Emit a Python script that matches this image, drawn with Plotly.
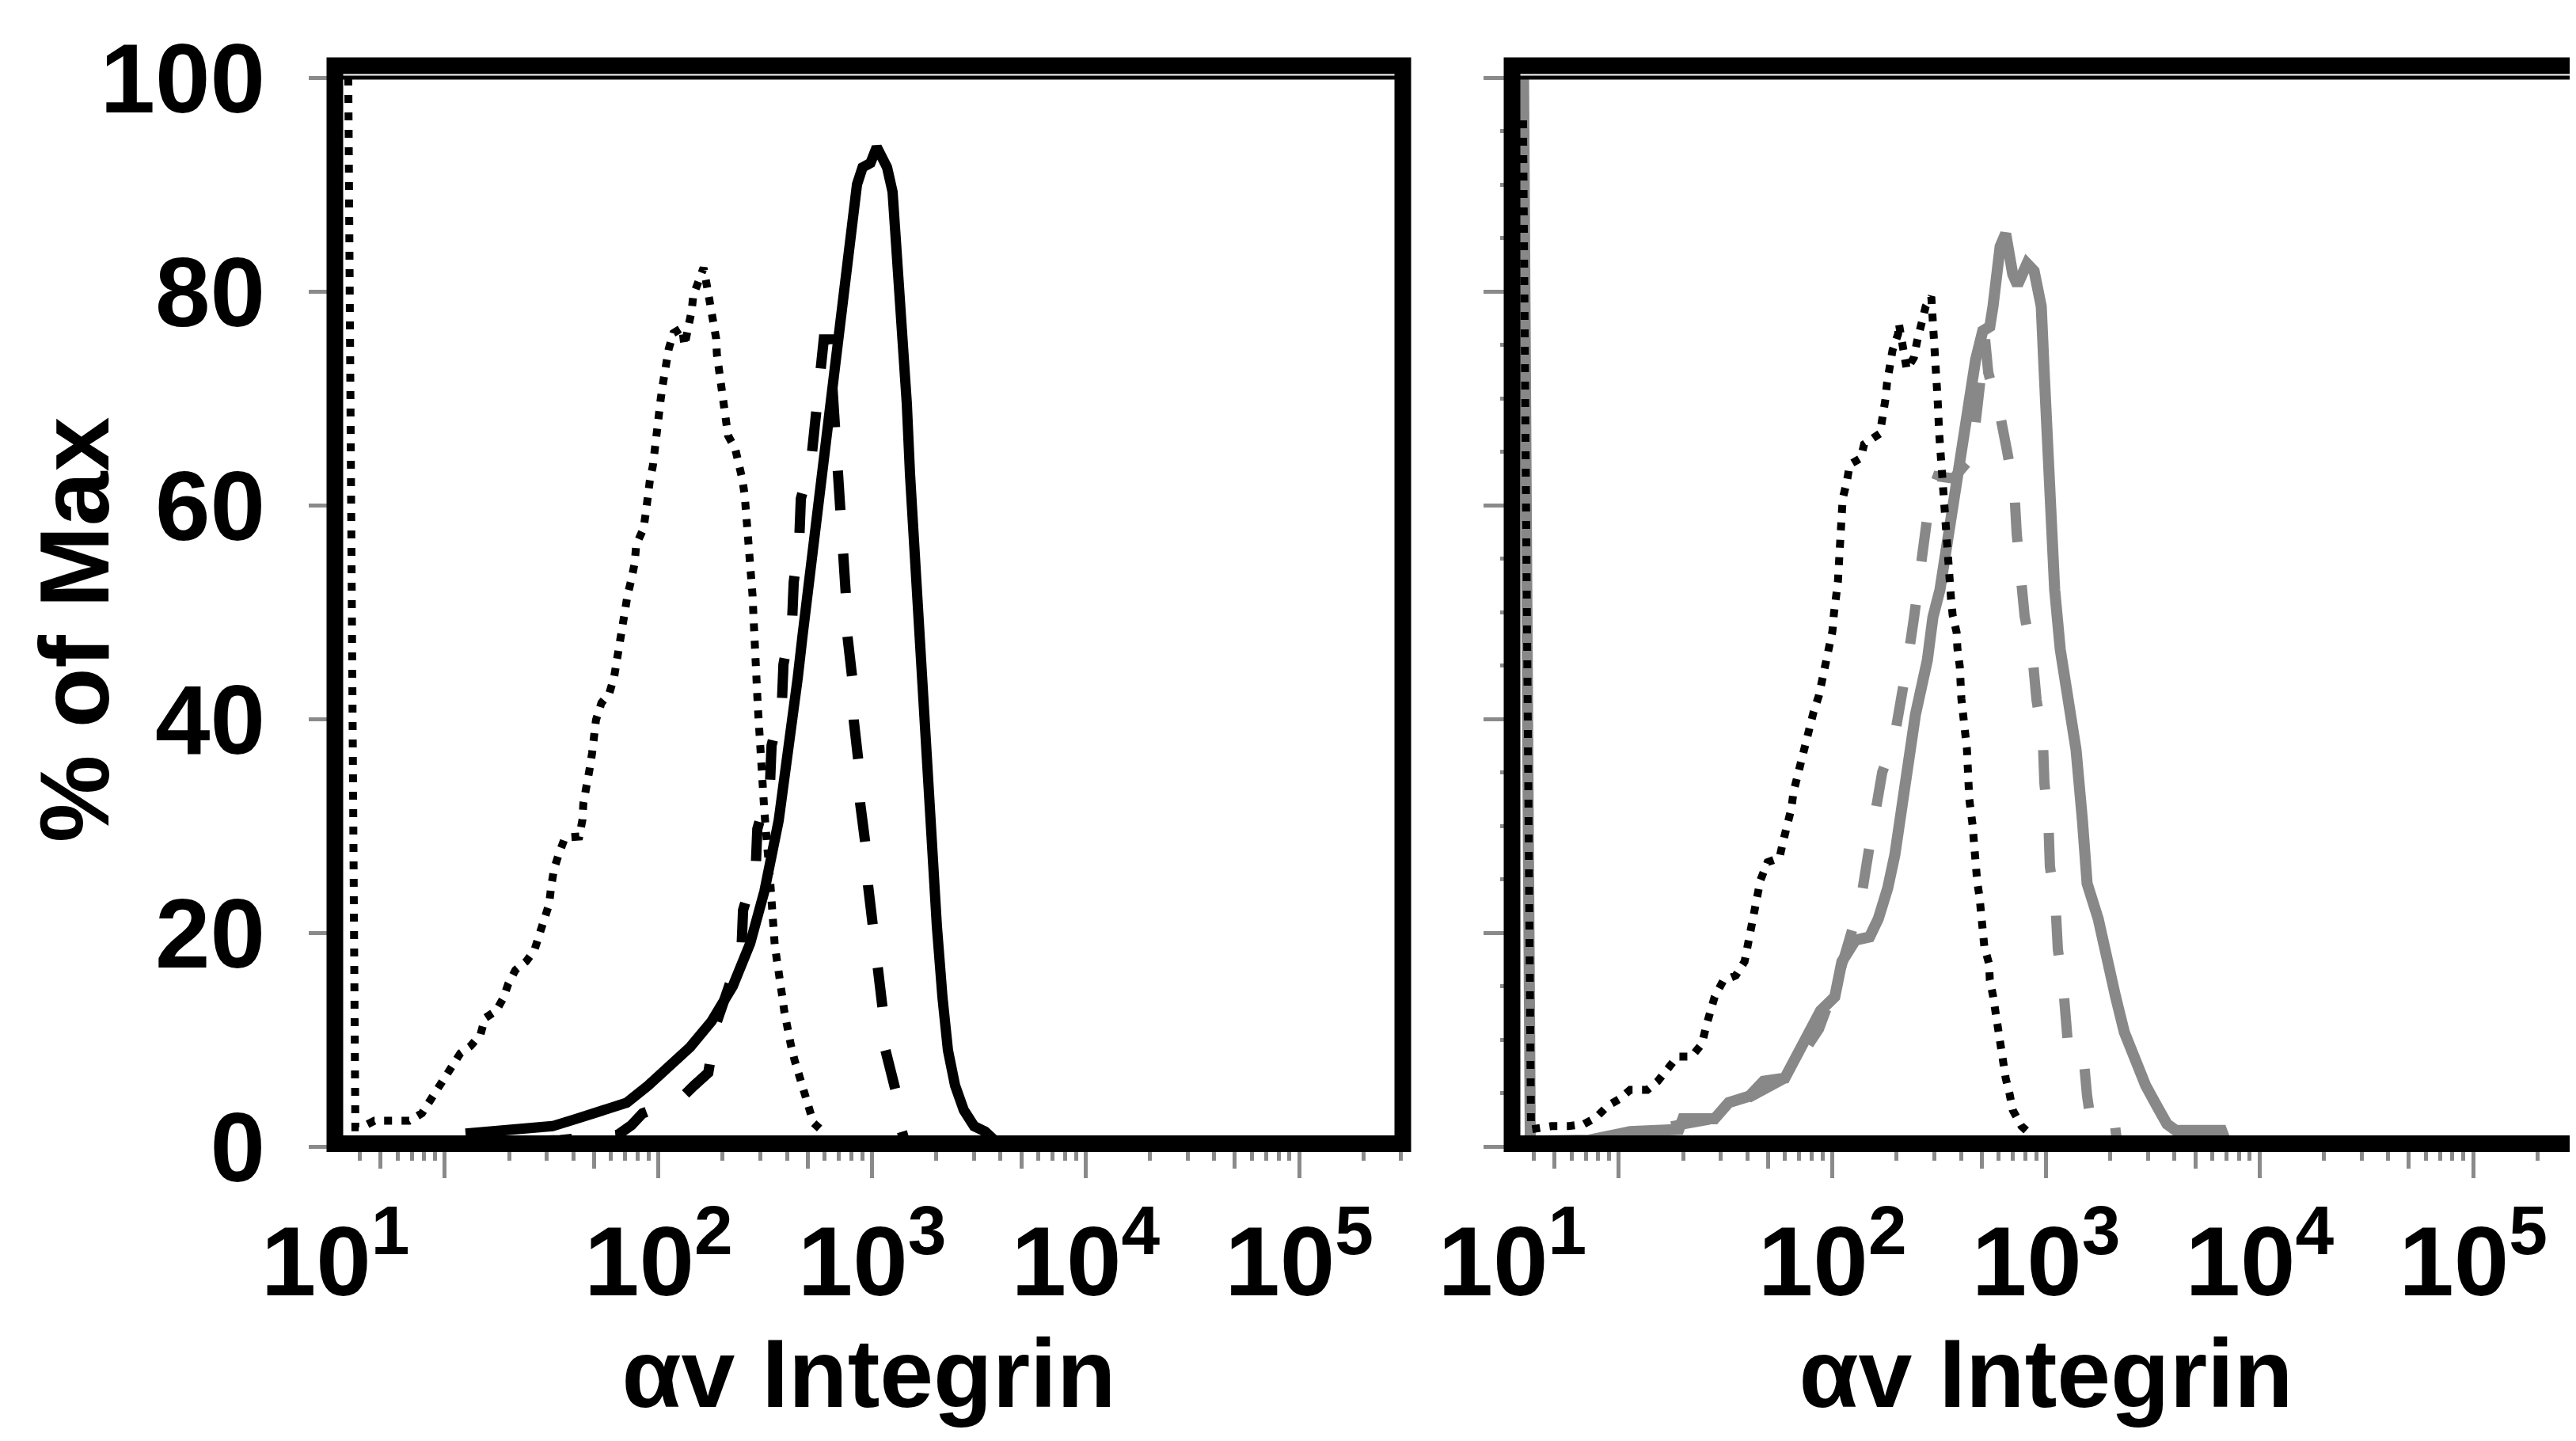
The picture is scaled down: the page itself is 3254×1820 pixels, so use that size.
import plotly.graph_objects as go

# ---------------- data (x: fluorescence intensity, y: % of Max) ----------------
# Left panel (black curves)
left_dotted_x = [3.53, 3.81, 4.08, 4.68, 5.65, 6.81, 7.81, 8.43, 9.18, 10.0, 10.9, 11.8, 13.2, 14.7, 15.4,
                 17.4, 18.8, 19.8, 21.4, 24.0, 26.2, 27.6, 29.0, 30.8, 31.4, 32.4, 34.1, 36.5, 42.6, 44.1,
                 44.5, 46.4, 47.6, 48.9, 50.1, 51.0, 54.1, 58.9, 62.0, 63.6, 65.3, 68.1, 69.8, 71.7, 74.8,
                 77.4, 78.7, 85.1, 87.3, 88.8, 91.0, 94.2, 95.8, 97.5, 99.1, 102.6, 105.2, 107.1, 111.7,
                 117.5, 129.1, 132.4, 139.3, 143.1, 145.5, 154.5, 162.6, 169.8, 175.5, 183.2, 186.2, 187.8,
                 192.8, 196.2, 201.3, 204.7, 211.8, 228.6, 238.8, 247.2, 253.5, 257.8, 262.2, 264.4, 269.2,
                 271.1, 275.9, 278.0, 280.6, 285.6, 287.8, 290.4, 293.1, 295.3, 300.6, 302.9, 308.3, 313.3,
                 332.7, 338.8, 344.4, 350.2, 359.4, 371.7, 378.2, 388.0, 398.1, 415.8, 433.5, 456.2, 484.2,
                 509.4, 532.1, 588.8, 609.5]
left_dotted_y = [100, 1.8, 1.8, 2.4, 2.4, 2.4, 3.1, 4.1, 5.3, 6.4, 7.6, 8.7, 9.4, 10.5, 12.0,
                 12.7, 13.9, 15.2, 16.5, 17.3, 18.3, 19.7, 21.3, 22.7, 24.2, 25.9, 27.3, 28.9, 29.0, 30.6,
                 32.1, 33.7, 35.3, 36.8, 38.3, 39.9, 41.5, 42.4, 43.9, 45.4, 47.0, 48.5, 50.0, 51.6, 53.1,
                 54.6, 56.3, 57.8, 59.3, 60.7, 62.2, 63.7, 65.3, 66.9, 68.4, 70.0, 71.5, 72.9, 74.6,
                 76.1, 76.6, 74.9, 76.6, 78.2, 79.6, 81.2, 82.2, 80.2, 78.7, 77.3, 75.6, 74.1,
                 72.5, 71.0, 69.5, 68.0, 66.5, 65.3, 63.9, 62.4, 60.9, 59.3, 57.8, 56.1, 54.6,
                 53.1, 51.5, 50.0, 46.9, 45.2, 43.8, 42.1, 40.6, 39.1, 37.5, 36.0, 32.8, 31.3,
                 25.1, 22.0, 20.4, 18.9, 17.3, 15.8, 14.3, 12.7, 11.1, 9.6, 8.1, 6.7, 5.3,
                 3.8, 2.2, 1.4, 0.0]

left_dashed_x = [10.5, 34.7, 64.7, 74.8, 84.3, 105.2, 125.9, 146.8, 171.1, 188.0, 215.4, 244.8, 249.0,
                 285.5, 290.4, 332.9, 338.5, 378.3, 384.8, 422.6, 429.9, 456.2, 464.2, 518.6, 541.2,
                 569.6, 594.4, 631.0, 658.3, 675.4, 704.8, 717.2, 729.5, 754.7, 767.7, 808.1, 822.0,
                 865.0, 879.9, 934.1, 958.3, 1017, 1043, 1127, 1156, 1302, 1371, 1431]
left_dashed_y = [0.3, 0.6, 1.1, 2.0, 3.1, 3.8, 4.4, 5.7, 6.9, 11.7, 15.5, 18.4, 22.1,
                 26.1, 29.7, 33.9, 37.5, 41.4, 45.1, 49.2, 52.8, 56.7, 60.6, 64.1, 67.7,
                 73.0, 75.5, 75.5, 70.0, 67.2, 63.2, 59.3, 55.3, 51.5, 47.7, 43.8, 39.8,
                 35.9, 32.1, 28.1, 24.4, 20.3, 16.7, 12.5, 9.0, 4.9, 1.6, 0.3]

left_solid_x = [12.5, 21.9, 31.9, 41.5, 56.5, 71.1, 89.5, 111.7, 140.7, 177.1, 222.9, 268.9, 313.6,
                365.6, 408.4, 448.7, 472.2, 509.9, 560.0, 604.6, 664.1, 693.0, 748.4, 808.1, 850.5,
                902.8, 983.1, 1052, 1127, 1176, 1248, 1325, 1394, 1455, 1506, 1572, 1668, 1771, 1864,
                1945, 2012, 2136, 2267, 2448, 2690, 3005, 3385, 3783]
left_solid_y = [1.2, 1.6, 1.9, 2.6, 3.4, 4.1, 5.7, 7.4, 9.3, 11.7, 15.0, 19.0, 23.9,
                30.5, 37.1, 43.8, 47.7, 53.0, 59.6, 66.2, 71.2, 74.4, 79.4, 86.0, 90.0,
                91.6, 92.0, 93.5, 92.0, 91.6, 89.3, 82.7, 76.1, 69.5, 62.9, 56.3, 49.6, 40.4, 33.9,
                27.2, 20.6, 14.0, 9.0, 5.7, 3.4, 1.9, 1.4, 0.5]

# Right panel (black dotted, grey dashed, grey solid)
right_dotted_x = [3.56, 3.88, 4.84, 5.79, 6.87, 7.81, 8.87, 10.0, 11.3, 13.6, 15.2, 16.8, 18.8, 21.9,
                  24.5, 25.6, 26.9, 28.1, 30.8, 35.3, 38.8, 40.2, 41.9, 43.0, 44.1, 46.0, 49.7, 56.5,
                  58.9, 62.0, 64.2, 65.8, 68.7, 71.1, 74.2, 76.8, 81.5, 86.5, 89.5, 92.6, 96.6, 100.0,
                  101.7, 104.4, 106.1, 107.1, 108.0, 108.9, 109.8, 111.7, 116.6, 120.6, 135.9, 140.7,
                  166.8, 174.1, 177.1, 180.1, 184.8, 191.2, 203.0, 204.7, 222.9, 240.7, 249.0, 259.9,
                  273.5, 290.4, 295.4, 303.0, 310.9, 316.2, 324.4, 327.2, 332.9, 338.5, 344.4, 350.3,
                  359.4, 365.6, 381.5, 384.8, 394.8, 401.6, 412.0, 419.1, 426.3, 433.5, 437.3, 452.4,
                  460.3, 468.2, 476.3, 488.6, 497.0, 505.6, 514.3, 541.2, 545.8, 564.9, 579.5, 589.5,
                  610.0, 631.0, 647.4, 675.4, 698.8, 767.7, 828.8, 879.9]
right_dotted_y = [96, 1.6, 1.9, 1.9, 2.1, 2.7, 3.8, 4.4, 5.3, 5.3, 6.1, 7.2, 8.4, 8.4,
                  9.6, 11.2, 12.5, 14.0, 15.5, 16.0, 17.3, 19.0, 20.4, 21.9, 23.4, 24.9, 26.6, 27.0,
                  28.6, 30.1, 31.6, 33.2, 34.7, 36.1, 37.6, 39.1, 40.6, 42.2, 43.6, 45.2, 46.7, 48.2,
                  49.9, 51.3, 52.8, 54.3, 56.0, 57.5, 59.1, 60.6, 62.1, 63.8, 64.4, 65.7,
                  66.7, 68.4, 69.9, 71.4, 72.9, 74.5, 76.0, 77.0, 72.7, 73.8, 75.3, 77.0,
                  78.6, 79.5, 77.6, 74.5, 69.9, 66.7, 63.6, 60.6, 59.0, 57.5, 54.3, 52.7,
                  51.2, 49.7, 48.1, 46.6, 44.9, 41.9, 40.3, 38.8, 37.2, 34.1, 32.5, 30.2,
                  27.9, 26.4, 24.8, 23.3, 21.8, 20.2, 18.7, 17.1, 15.6, 14.1, 12.5, 11.0,
                  9.4, 8.0, 6.4, 4.9, 3.4, 1.9, 1.3, 0.3]

right_dashed_x = [7.29, 26.2, 40.1, 61.5, 86.5, 107.1, 126.9, 138.3, 148.1, 159.8, 171.1, 194.5, 211.8,
                  224.9, 240.7, 253.3, 268.9, 285.5, 310.9, 368.7, 448.7, 484.4, 518.6, 536.6, 574.5,
                  610.0, 658.3, 711.0, 729.5, 767.7, 794.3, 865.0, 902.8, 966.5, 983.1, 1026, 1043,
                  1108, 1137, 1206, 1227, 1270, 1443, 1506, 1558, 1612, 2082, 2154]
right_dashed_y = [0.5, 2.5, 4.5, 6.5, 11.0, 16.0, 21.0, 24.0, 27.7, 31.2, 35.0, 38.1, 41.8,
                  45.4, 49.4, 52.8, 56.7, 60.6, 62.7, 62.5, 64.5, 70.0, 75.5, 72.4, 70.4,
                  68.4, 65.0, 61.3, 57.3, 53.5, 49.6, 45.8, 41.8, 38.1, 34.0, 30.4, 26.2,
                  22.6, 18.4, 14.8, 11.3, 9.3, 9.3, 7.9, 4.7, 2.7, 2.7, 0.3]

right_solid_x = [3.58, 3.85, 7.29, 11.3, 19.1, 19.95, 28.1, 32.7, 40.8, 47.6, 59.9, 67.5, 75.5, 88.0,
                 102.6, 110.8, 128.0, 149.3, 164.0, 181.7, 196.1, 210.0, 226.7, 244.8, 278.3, 295.4,
                 318.9, 359.4, 394.8, 419.1, 441.0, 468.2, 505.6, 545.8, 564.9, 589.5, 610.0, 647.4,
                 698.8, 735.5, 815.0, 879.9, 950.1, 983.1, 1017, 1061, 1098, 1166, 1238, 1325, 1383,
                 1481, 1558, 1756, 1928, 2118, 2326, 2621, 2929, 3300, 3687, 4050, 6641, 6930]
right_solid_y = [100, 0.5, 0.6, 1.4, 1.6, 2.6, 2.6, 4.1, 4.7, 6.1, 6.4, 8.4, 10.4, 12.7,
                 14.0, 17.3, 19.3, 19.6, 21.3, 24.2, 27.3, 31.2, 35.5, 40.4, 45.5, 49.5,
                 52.1, 58.8, 64.7, 67.0, 70.4, 73.6, 76.3, 76.7, 78.6, 81.9, 84.2, 85.4,
                 81.6, 80.6, 82.6, 81.9, 78.6, 72.0, 65.4, 58.8, 52.1, 46.5, 43.0, 40.0, 37.1,
                 30.5, 24.6, 21.3, 17.3, 14.0, 10.7, 8.1, 5.7, 3.8, 2.1, 1.5, 1.5, 0.5]

# axis text
y_tick_vals = [0, 20, 40, 60, 80, 100]
y_tick_text = ["0", "20", "40", "60", "80", "100"]
x_tick_text = ["10<sup>1</sup>", "10<sup>2</sup>", "10<sup>3</sup>", "10<sup>4</sup>", "10<sup>5</sup>"]
x_label_vals_left = [3.07, 100, 1000, 10000, 100000]
x_label_vals_right = [3.17, 100, 1000, 10000, 100000]
x_title = "αv Integrin"
y_title = "% of Max"

# ---------------- styling / geometry ----------------
W, H = 3254, 1820
ML, MR, MT, MB = 415, 3, 75, 380
PW, PH = W - ML - MR, H - MT - MB
PX_PER_PCT = 13.5
Y_MAX = PH / PX_PER_PCT
LEFT_DOM = [0, 1349 / PW]
RIGHT_DOM = [(1902 - ML) / PW, 1]
XR_L = [0.485, 5.485]
XR_R = [0.5, 5.5]
FONT = "Liberation Sans, Arial, Helvetica, sans-serif"
GREY = "#888888"
TICK_GREY = "#8a8a8a"
DOT = "10px,12px"
DASH = "50px,55px"

decades = [10, 100, 1000, 10000, 100000]
fives = [5 * d for d in [1, 10, 100, 1000, 10000]]
shorts = [m * d for d in [1, 10, 100, 1000, 10000, 100000] for m in (2, 3, 4, 6, 7, 8, 9)]

fig = go.Figure()

def add_line(x, y, xa, ya, color, dash, width):
    fig.add_trace(go.Scatter(x=x, y=y, xaxis=xa, yaxis=ya, mode="lines",
                             line=dict(color=color, dash=dash, width=width),
                             showlegend=False, hoverinfo="skip"))

add_line(left_dotted_x, left_dotted_y, "x", "y", "black", DOT, 10)
add_line(left_dashed_x, left_dashed_y, "x", "y", "black", DASH, 13)
add_line(left_solid_x, left_solid_y, "x", "y", "black", "solid", 13)

add_line(right_solid_x, right_solid_y, "x2", "y2", GREY, "solid", 14)
add_line(right_dashed_x, right_dashed_y, "x2", "y2", GREY, DASH, 13)
add_line(right_dotted_x, right_dotted_y, "x2", "y2", "black", DOT, 10)

# empty traces so the tick-only overlay axes get drawn
for xa, ya in (("x3", "y"), ("x4", "y2")):
    fig.add_trace(go.Scatter(x=[], y=[], xaxis=xa, yaxis=ya, showlegend=False, hoverinfo="skip"))

tickfont = dict(family=FONT, size=125, color="black", weight="bold")
titlefont = dict(family=FONT, size=122, color="black", weight="bold")

def label_axis(dom, rng, vals, anchor):
    return dict(domain=dom, type="log", range=rng, anchor=anchor,
                tickmode="array", tickvals=vals, ticktext=x_tick_text, ticks="",
                showgrid=False, zeroline=False, showline=False,
                tickfont=tickfont, ticklabelstandoff=62,
                minor=dict(tickmode="array", tickvals=shorts, ticks="outside", ticklen=17,
                           tickwidth=5, tickcolor=TICK_GREY, showgrid=False),
                title=dict(text=x_title, font=titlefont, standoff=30))

def tick_axis(over, rng, anchor):
    return dict(overlaying=over, anchor=anchor, type="log", range=rng,
                tickmode="array", tickvals=decades, ticks="outside", ticklen=39,
                tickwidth=5, tickcolor=TICK_GREY, showticklabels=False,
                showgrid=False, zeroline=False, showline=False,
                minor=dict(tickmode="array", tickvals=fives, ticks="outside", ticklen=27,
                           tickwidth=5, tickcolor=TICK_GREY, showgrid=False))

fig.update_layout(
    width=W, height=H,
    margin=dict(l=ML, r=MR, t=MT, b=MB, autoexpand=False),
    paper_bgcolor="white", plot_bgcolor="white",
    xaxis=label_axis(LEFT_DOM, XR_L, x_label_vals_left, "y"),
    xaxis2=label_axis(RIGHT_DOM, XR_R, x_label_vals_right, "y2"),
    xaxis3=tick_axis("x", XR_L, "y"),
    xaxis4=tick_axis("x2", XR_R, "y2"),
    yaxis=dict(domain=[0, 1], range=[0, Y_MAX], anchor="x",
               tickmode="array", tickvals=y_tick_vals, ticktext=y_tick_text,
               ticks="outside", ticklen=32, tickwidth=5, tickcolor=TICK_GREY,
               showgrid=False, zeroline=False, showline=False,
               tickfont=tickfont, ticklabelstandoff=30),
    yaxis2=dict(domain=[0, 1], range=[0, Y_MAX], anchor="x2",
                tickmode="array", tickvals=y_tick_vals, ticks="outside", ticklen=35,
                tickwidth=5, tickcolor=TICK_GREY, showticklabels=False,
                showgrid=False, zeroline=False, showline=False,
                minor=dict(dtick=5, ticks="outside", ticklen=14, tickwidth=5,
                           tickcolor=TICK_GREY, showgrid=False)),
    annotations=[dict(text=y_title, textangle=-90, xref="paper", yref="paper",
                      x=(86 - ML) / PW, y=(H - MB - 788) / PH, xanchor="center", yanchor="middle",
                      showarrow=False, font=dict(family=FONT, size=124, color="black", weight="bold"))],
)

# frames (thick black boxes) and the thin 100 % line
shapes = []
for xr in ("x domain", "x2 domain"):
    shapes.append(dict(type="rect", xref=xr, yref="paper", x0=0, x1=1,
                       y0=0.26 / Y_MAX, y1=1, line=dict(color="black", width=21),
                       fillcolor="rgba(0,0,0,0)", layer="above"))
    shapes.append(dict(type="line", xref=xr, yref="paper", x0=0, x1=1,
                       y0=100 / Y_MAX, y1=100 / Y_MAX, line=dict(color="black", width=5),
                       layer="above"))
fig.update_layout(shapes=shapes)

fig.write_html("out.html")
